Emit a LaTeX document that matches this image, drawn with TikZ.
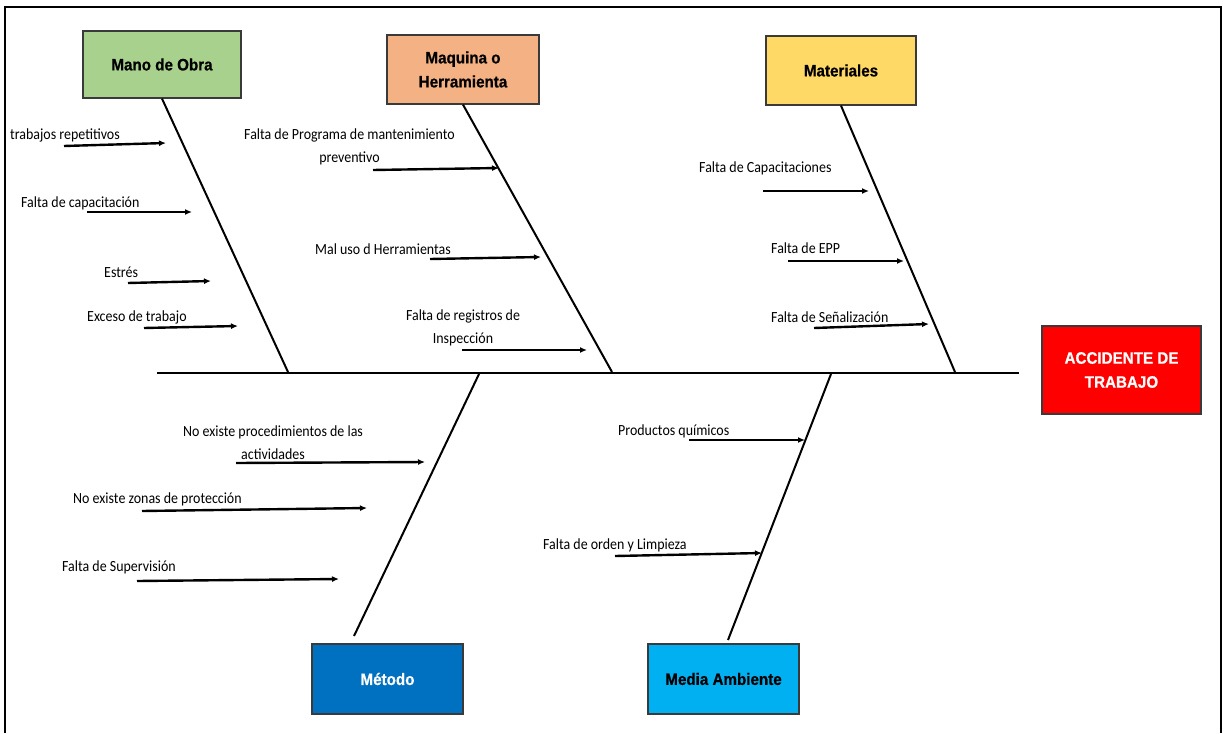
\documentclass[tikz,border=0pt]{standalone}
\usepackage{fontspec}
\setmainfont{Carlito}[FakeStretch=0.9]
\newfontfamily\boxfont{Liberation Sans}[FakeStretch=0.92,FakeBold=0.6]
\usetikzlibrary{arrows.meta}
\definecolor{cgreen}{HTML}{A9D18E}
\definecolor{corange}{HTML}{F4B183}
\definecolor{cyellow}{HTML}{FFD966}
\definecolor{cred}{HTML}{FF0000}
\definecolor{cblue}{HTML}{0070C0}
\definecolor{clblue}{HTML}{00B0F0}
\definecolor{cborder}{HTML}{3A3A3A}
\begin{document}
\begin{tikzpicture}[x=1pt,y=-1pt,
  catbox/.style={draw=cborder,line width=1.3pt,minimum width=#1,inner sep=0pt,
    font=\boxfont\bfseries\fontsize{16.5}{24}\selectfont,align=center},
  bone/.style={line width=2pt},
  spine/.style={line width=2.6pt},
  cause/.style={line width=2.4pt,-{Latex[length=7pt,width=6pt]}},
  lab/.style={inner sep=0pt,font=\fontsize{15.5}{23}\selectfont},
]
\useasboundingbox (0,0) rectangle (1225,733);
% frame
\draw[line width=2.6pt] (5,733) -- (5,7) -- (1221,7) -- (1221,733);

% category boxes
\node[catbox=158pt,minimum height=67pt,fill=cgreen] (mo) at (162,64.5) {Mano de Obra};
\node[catbox=152pt,minimum height=69pt,fill=corange] (mq) at (463,69.5) {Maquina o\\Herramienta};
\node[catbox=150pt,minimum height=69pt,fill=cyellow] (mat) at (841,70.5) {Materiales};
\node[catbox=159pt,minimum height=88pt,fill=cred,text=white] (acc) at (1121.5,370) {ACCIDENTE DE\\TRABAJO};
\node[catbox=151pt,minimum height=70pt,fill=cblue,text=white] (met) at (387.5,679) {Método};
\node[catbox=151pt,minimum height=70pt,fill=clblue] (med) at (723.5,679) {Media Ambiente};

% spine
\coordinate (sp1) at (157,373);
\coordinate (sp2) at (1019,373);
\draw[spine] (sp1) -- (sp2);

% bones
\coordinate (b1) at (288,372);
\coordinate (b2) at (612,372);
\coordinate (b3) at (955,372);
\coordinate (b4t) at (479,374);
\coordinate (b4b) at (354,636);
\coordinate (b5t) at (831,374);
\coordinate (b5b) at (728,640);
\draw[bone] (mo.south) -- (b1);
\draw[bone] (mq.south) -- (b2);
\draw[bone] (mat.south) -- (b3);
\draw[bone] (b4b) -- (b4t);
\draw[bone] (b5b) -- (b5t);

% Mano de Obra causes
\node[lab,anchor=west] (t1) at (10,135) {trabajos repetitivos};
\coordinate (a1s) at (64,146); \coordinate (a1e) at (166,143);
\draw[cause] (a1s) -- (a1e);
\node[lab,anchor=west] (t2) at (21,203) {Falta de capacitación};
\coordinate (a2s) at (87,212); \coordinate (a2e) at (192,212);
\draw[cause] (a2s) -- (a2e);
\node[lab,anchor=west] (t3) at (104,272) {Estrés};
\coordinate (a3s) at (128,283); \coordinate (a3e) at (211,281);
\draw[cause] (a3s) -- (a3e);
\node[lab,anchor=west] (t4) at (87,317) {Exceso de trabajo};
\coordinate (a4s) at (144,328); \coordinate (a4e) at (238,326);
\draw[cause] (a4s) -- (a4e);

% Maquina causes
\node[lab,align=center] (t5) at (349.5,146.5) {Falta de Programa de mantenimiento\\preventivo};
\coordinate (a5s) at (373,170); \coordinate (a5e) at (499,168);
\draw[cause] (a5s) -- (a5e);
\node[lab,anchor=west] (t6) at (315,249) {Mal uso d Herramientas};
\coordinate (a6s) at (430,259); \coordinate (a6e) at (541,257);
\draw[cause] (a6s) -- (a6e);
\node[lab,align=center] (t7) at (463,328) {Falta de registros de\\Inspección};
\coordinate (a7s) at (462,350); \coordinate (a7e) at (587,350);
\draw[cause] (a7s) -- (a7e);

% Materiales causes
\node[lab,anchor=west] (t8) at (699,168) {Falta de Capacitaciones};
\coordinate (a8s) at (763,191); \coordinate (a8e) at (869,191);
\draw[cause] (a8s) -- (a8e);
\node[lab,anchor=west] (t9) at (771,248) {Falta de EPP};
\coordinate (a9s) at (788,261); \coordinate (a9e) at (904,261);
\draw[cause] (a9s) -- (a9e);
\node[lab,anchor=west] (t10) at (771,317) {Falta de Señalización};
\coordinate (a10s) at (814,328); \coordinate (a10e) at (929,324);
\draw[cause] (a10s) -- (a10e);

% Metodo causes
\node[lab,align=center] (t11) at (273,442.5) {No existe procedimientos de las\\actividades};
\coordinate (a11s) at (236,463); \coordinate (a11e) at (425,462);
\draw[cause] (a11s) -- (a11e);
\node[lab,anchor=west] (t12) at (73,499) {No existe zonas de protección};
\coordinate (a12s) at (142,511); \coordinate (a12e) at (367,508);
\draw[cause] (a12s) -- (a12e);
\node[lab,anchor=west] (t13) at (62,567) {Falta de Supervisión};
\coordinate (a13s) at (137,581); \coordinate (a13e) at (339,579);
\draw[cause] (a13s) -- (a13e);

% Media Ambiente causes
\node[lab,anchor=west] (t14) at (618,431) {Productos químicos};
\coordinate (a14s) at (689,440); \coordinate (a14e) at (805,440);
\draw[cause] (a14s) -- (a14e);
\node[lab,anchor=west] (t15) at (543,545) {Falta de orden y Limpieza};
\coordinate (a15s) at (615,556); \coordinate (a15e) at (762,553);
\draw[cause] (a15s) -- (a15e);
\end{tikzpicture}
\end{document}
